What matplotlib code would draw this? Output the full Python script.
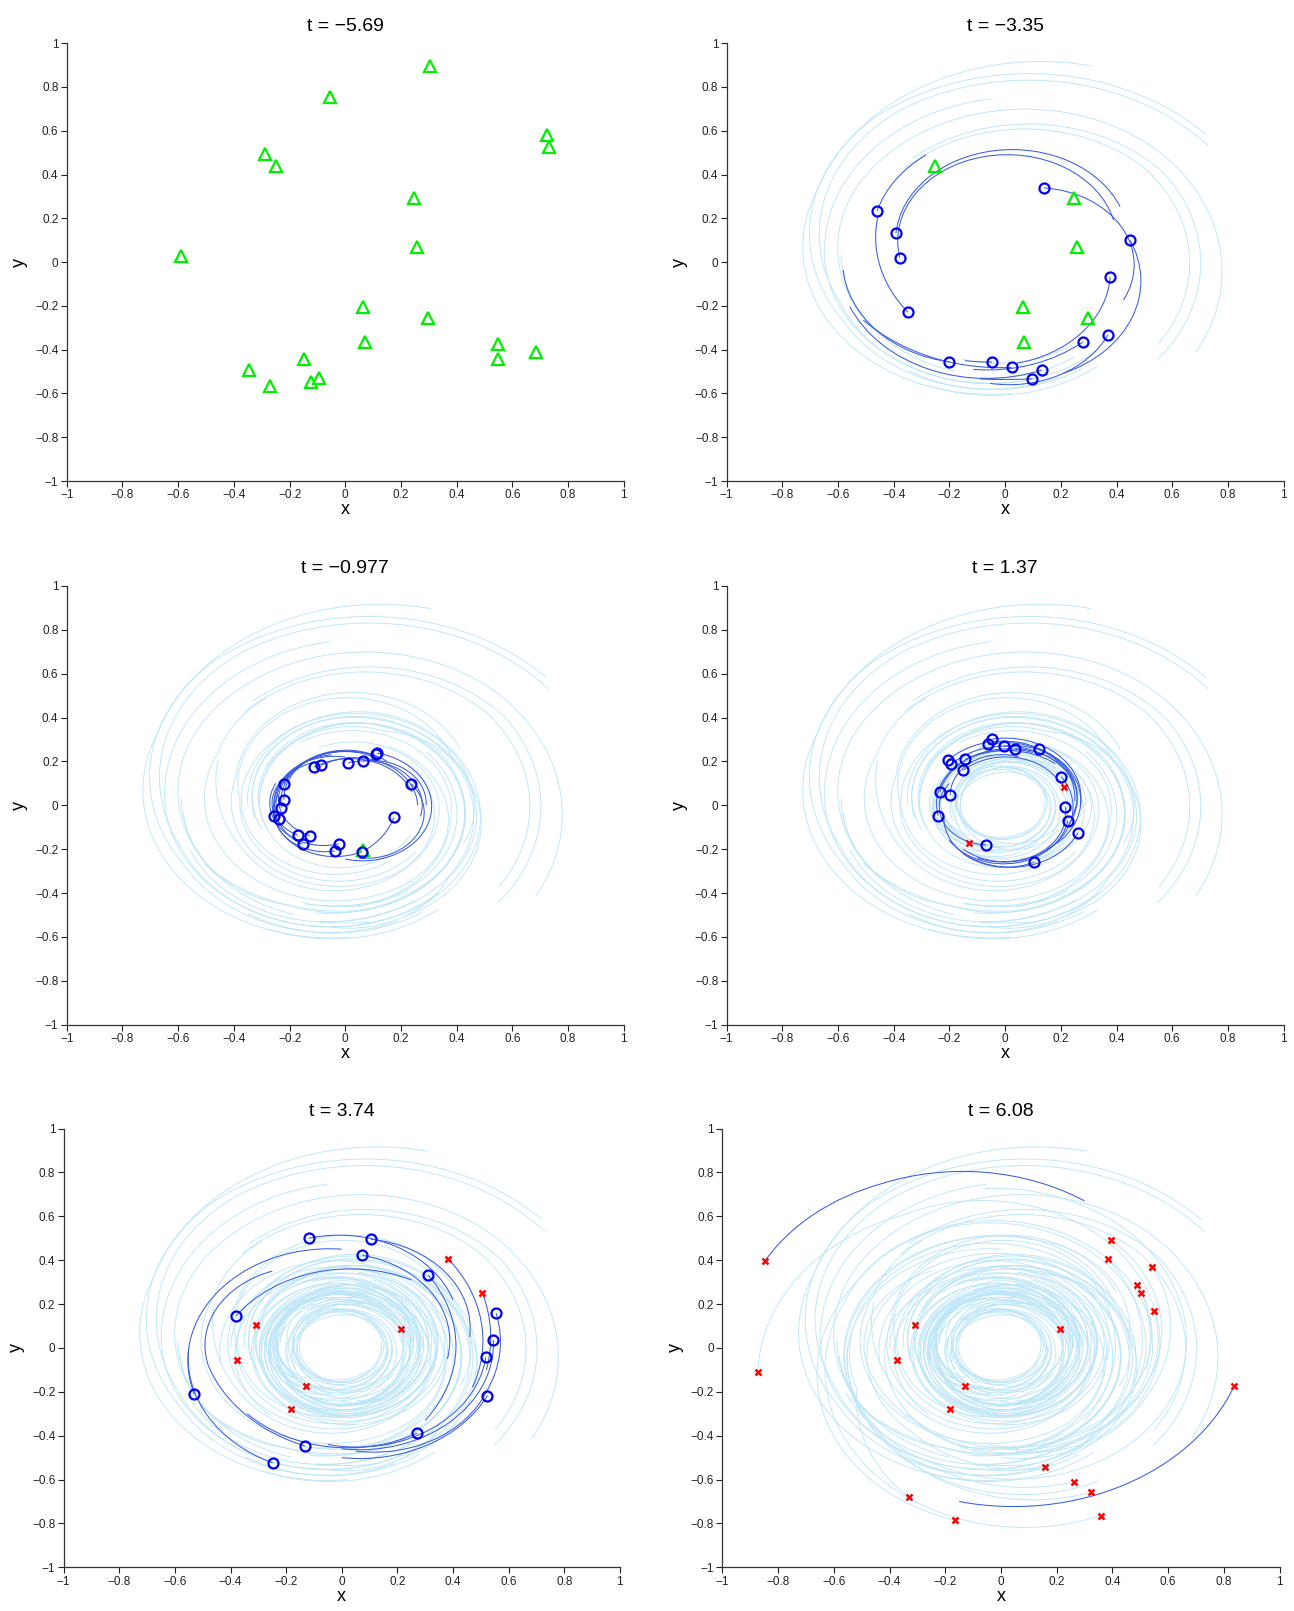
import math

import matplotlib
matplotlib.use("Agg")
import matplotlib.pyplot as plt
from matplotlib.patches import Arc

plt.rcParams["font.family"] = ["Liberation Sans", "DejaVu Sans"]

# ── Snapshot times ───────────────────────────────────────────────────
T_LABELS = ["\u22125.69", "\u22123.35", "\u22120.977", "1.37", "3.74", "6.08"]

# ── Birth positions (green triangles); last panel each one is shown ──
TRI_X = [0.305, -0.054, 0.724, 0.731, -0.289, -0.250, 0.248, 0.258, -0.589, 0.065,
         0.298, 0.069, 0.549, 0.549, 0.686, -0.150, -0.347, -0.270, -0.122, -0.094]
TRI_Y = [0.898, 0.752, 0.579, 0.528, 0.494, 0.437, 0.293, 0.069, 0.028, -0.205,
         -0.255, -0.363, -0.375, -0.443, -0.409, -0.444, -0.495, -0.566, -0.548, -0.529]
TRI_LAST = [1, 1, 1, 1, 1, 2, 2, 2, 1, 3, 2, 2, 1, 1, 1, 1, 1, 1, 1, 1]

# ── Death positions (red crosses); first panel each one is shown ─────
DEAD_X = [0.213, -0.130, -0.310, -0.375, -0.184, 0.383, 0.504,
          -0.847, -0.872, 0.394, 0.544, 0.490, 0.548, 0.838,
          0.159, 0.262, 0.324, -0.330, 0.358, -0.164]
DEAD_Y = [0.084, -0.172, 0.106, -0.053, -0.280, 0.403, 0.250,
          0.397, -0.110, 0.493, 0.367, 0.289, 0.167, -0.172,
          -0.544, -0.610, -0.657, -0.680, -0.764, -0.785]
DEAD_FIRST = [4, 4, 5, 5, 5, 5, 5, 6, 6, 6, 6, 6, 6, 6, 6, 6, 6, 6, 6, 6]

# ── Live particles (blue circles) per panel ─────────────────────────
CIRC_X = {
    2: [0.139, -0.459, -0.392, -0.378, -0.349, 0.448, 0.377, 0.369, 0.279,
        -0.200, -0.046, 0.024, 0.131, 0.098],
    3: [0.114, 0.110, -0.112, -0.087, 0.010, 0.064, 0.237, -0.221, -0.220,
        -0.230, -0.256, -0.237, 0.174, -0.171, -0.128, -0.153, -0.024, -0.038, 0.060],
    4: [-0.046, -0.061, -0.004, 0.036, 0.120, -0.206, -0.194, -0.144, -0.151,
        0.202, -0.234, -0.197, 0.216, -0.240, 0.225, 0.262, -0.069, 0.105],
    5: [-0.119, 0.105, 0.074, 0.311, -0.380, 0.555, 0.545, 0.518, 0.524,
        -0.530, 0.272, -0.132, -0.248],
}
CIRC_Y = {
    2: [0.339, 0.235, 0.132, 0.020, -0.229, 0.101, -0.069, -0.332, -0.365,
        -0.456, -0.456, -0.481, -0.493, -0.533],
    3: [0.238, 0.235, 0.174, 0.182, 0.193, 0.202, 0.098, 0.098, 0.025,
        -0.011, -0.047, -0.064, -0.055, -0.136, -0.138, -0.178, -0.176, -0.208, -0.211],
    4: [0.302, 0.278, 0.270, 0.258, 0.258, 0.205, 0.188, 0.209, 0.159,
        0.130, 0.060, 0.045, -0.006, -0.047, -0.070, -0.125, -0.180, -0.259],
    5: [0.500, 0.495, 0.422, 0.332, 0.146, 0.159, 0.036, -0.043, -0.217,
        -0.210, -0.388, -0.447, -0.524],
}

# ── Recent trails (dark), points along the path, newest last ────────
TRAILS_2 = [
    [(-0.284, 0.489), (-0.383, 0.390), (-0.459, 0.235)],
    [(-0.457, 0.207), (-0.452, -0.006), (-0.349, -0.229)],
    [(0.413, 0.253), (0.089, 0.509), (-0.392, 0.132)],
    [(0.389, 0.192), (0.089, 0.482), (-0.378, 0.020)],
    [(0.425, -0.173), (0.425, 0.147), (0.139, 0.339)],
    [(0.209, -0.508), (0.472, -0.204), (0.448, 0.101)],
    [(0.041, -0.462), (0.317, -0.264), (0.377, -0.069)],
    [(-0.054, -0.554), (0.209, -0.508), (0.369, -0.332)],
    [(-0.114, -0.490), (0.113, -0.462), (0.279, -0.365)],
    [(-0.581, -0.036), (-0.449, -0.325), (-0.200, -0.456)],
    [(-0.144, -0.450), (-0.095, -0.455), (-0.046, -0.456)],
    [(-0.509, -0.265), (-0.270, -0.432), (0.024, -0.481)],
    [(-0.557, -0.204), (-0.329, -0.462), (0.131, -0.493)],
    [(-0.090, -0.534), (0.006, -0.536), (0.098, -0.533)],
]
TRAILS_3 = [
    [(0.000, -0.245), (0.310, 0.000), (0.114, 0.238)],
    [(0.050, -0.240), (0.280, -0.070), (0.237, 0.098)],
    [(0.290, 0.000), (0.220, 0.160), (0.064, 0.202)],
    [(0.270, -0.050), (0.210, 0.150), (0.010, 0.193)],
    [(0.260, 0.000), (0.120, 0.200), (-0.087, 0.182)],
    [(0.240, 0.060), (0.080, 0.205), (-0.112, 0.174)],
    [(0.050, 0.240), (-0.140, 0.200), (-0.221, 0.098)],
    [(0.100, 0.220), (-0.170, 0.170), (-0.220, 0.025)],
    [(0.150, 0.200), (-0.190, 0.150), (-0.230, -0.011)],
    [(0.120, 0.220), (-0.220, 0.120), (-0.256, -0.047)],
    [(-0.050, 0.230), (-0.240, 0.070), (-0.237, -0.064)],
    [(-0.200, 0.140), (-0.260, -0.020), (-0.171, -0.136)],
    [(-0.100, 0.200), (-0.240, 0.030), (-0.128, -0.138)],
    [(0.000, 0.220), (-0.250, 0.060), (-0.153, -0.178)],
    [(-0.250, 0.100), (-0.220, -0.120), (-0.024, -0.176)],
    [(-0.240, 0.050), (-0.200, -0.160), (-0.038, -0.208)],
    [(-0.260, 0.000), (-0.170, -0.190), (0.060, -0.211)],
    [(0.071, -0.204), (0.137, -0.135), (0.174, -0.055)],
]
TRAILS_4 = [
    [(0.270, 0.000), (0.200, 0.220), (-0.046, 0.302)],
    [(0.250, 0.020), (0.170, 0.220), (-0.061, 0.278)],
    [(0.240, -0.050), (0.220, 0.170), (-0.004, 0.270)],
    [(0.220, -0.100), (0.240, 0.120), (0.036, 0.258)],
    [(0.150, -0.200), (0.270, 0.050), (0.120, 0.258)],
    [(0.250, 0.100), (0.030, 0.290), (-0.206, 0.205)],
    [(0.230, 0.140), (0.000, 0.270), (-0.194, 0.188)],
    [(0.180, 0.190), (0.020, 0.250), (-0.144, 0.209)],
    [(0.200, 0.100), (0.020, 0.220), (-0.151, 0.159)],
    [(-0.100, -0.240), (0.200, -0.150), (0.202, 0.130)],
    [(0.100, 0.240), (-0.150, 0.200), (-0.234, 0.060)],
    [(0.050, 0.220), (-0.150, 0.170), (-0.197, 0.045)],
    [(-0.150, -0.200), (0.120, -0.220), (0.216, -0.006)],
    [(0.000, 0.250), (-0.200, 0.150), (-0.240, -0.047)],
    [(-0.200, -0.160), (0.050, -0.260), (0.225, -0.070)],
    [(-0.150, -0.220), (0.100, -0.270), (0.262, -0.125)],
    [(-0.200, 0.100), (-0.220, -0.080), (-0.069, -0.180)],
    [(-0.220, -0.050), (-0.150, -0.220), (0.105, -0.259)],
]
TRAILS_5 = [
    [(0.400, 0.220), (0.180, 0.470), (-0.119, 0.500)],
    [(0.460, 0.050), (0.360, 0.360), (0.105, 0.495)],
    [(0.380, -0.050), (0.310, 0.270), (0.074, 0.422)],
    [(0.300, -0.330), (0.410, -0.020), (0.311, 0.332)],
    [(0.250, 0.310), (-0.070, 0.350), (-0.380, 0.146)],
    [(0.000, 0.450), (-0.450, 0.250), (-0.530, -0.210)],
    [(0.050, -0.470), (0.360, -0.400), (0.520, -0.200), (0.570, 0.000), (0.555, 0.159)],
    [(0.000, -0.460), (0.450, -0.270), (0.545, 0.036)],
    [(-0.050, -0.440), (0.400, -0.300), (0.518, -0.043)],
    [(0.000, -0.500), (0.330, -0.430), (0.524, -0.217)],
    [(-0.340, -0.300), (-0.050, -0.450), (0.272, -0.388)],
    [(-0.250, 0.350), (-0.450, 0.180), (-0.480, -0.080), (-0.340, -0.310), (-0.132, -0.447)],
    [(-0.550, 0.000), (-0.470, -0.330), (-0.248, -0.524)],
    [(0.470, -0.180), (0.500, 0.130), (0.384, 0.404)],
    [(0.520, -0.100), (0.535, 0.080), (0.506, 0.250)],
]
TRAILS_6 = [
    [(0.300, 0.670), (0.030, 0.786), (-0.430, 0.748), (-0.687, 0.596), (-0.847, 0.397)],
    [(-0.150, -0.700), (0.450, -0.620), (0.838, -0.172)],
]

# ── Older path pieces (light), (r_start, deg_start, r_end, deg_end), CCW
LIGHT_2 = [
    (0.948, 71, 0.75, 154), (0.75, 154, 0.60, 272),
    (0.747, 94, 0.655, 171), (0.655, 171, 0.56, 262),
    (0.927, 39, 0.81, 125), (0.81, 125, 0.64, 205), (0.64, 205, 0.56, 290),
    (0.902, 36, 0.79, 118), (0.79, 118, 0.62, 198), (0.62, 198, 0.54, 285),
    (0.799, 329, 0.75, 400), (0.75, 40, 0.64, 140), (0.64, 140, 0.56, 215),
    (0.665, 326, 0.66, 400), (0.66, 40, 0.56, 130),
    (0.705, 321, 0.70, 395), (0.70, 35, 0.58, 125),
    (0.59, 177, 0.53, 250),
    (0.605, 235, 0.56, 300), (0.627, 244, 0.58, 305),
    (0.561, 257, 0.52, 310), (0.537, 260, 0.50, 300), (0.469, 251, 0.45, 300),
]
LIGHT_3 = [
    (0.366, 68, 0.30, 200), (0.30, 200, 0.27, 330),
    (0.516, 153, 0.42, 300), (0.42, 300, 0.31, 420),
    (0.414, 161, 0.36, 300), (0.36, 300, 0.29, 400),
    (0.379, 177, 0.33, 320),
    (0.417, 213, 0.34, 350), (0.34, 350, 0.28, 470),
    (0.459, 13, 0.38, 160), (0.38, 160, 0.30, 300),
    (0.383, 350, 0.33, 480),
    (0.496, 318, 0.40, 450), (0.40, 90, 0.32, 200),
    (0.459, 307, 0.38, 440), (0.38, 80, 0.30, 200),
    (0.498, 246, 0.42, 380), (0.42, 20, 0.33, 150),
    (0.458, 264, 0.38, 400),
    (0.482, 273, 0.40, 410), (0.40, 50, 0.31, 170),
    (0.510, 285, 0.42, 420), (0.42, 60, 0.33, 190),
    (0.542, 280, 0.45, 410), (0.45, 50, 0.35, 180),
]
LIGHT_4 = [
    (0.25, 0, 0.18, 150), (0.18, 150, 0.14, 300), (0.14, 300, 0.17, 450),
    (0.24, 60, 0.17, 200), (0.17, 200, 0.14, 340), (0.14, 340, 0.19, 500),
    (0.26, 120, 0.19, 260), (0.19, 260, 0.15, 400), (0.15, 40, 0.20, 200),
    (0.23, 180, 0.17, 320), (0.17, 320, 0.15, 470), (0.15, 110, 0.21, 260),
    (0.25, 240, 0.19, 380), (0.19, 20, 0.16, 170), (0.16, 170, 0.22, 330),
    (0.27, 300, 0.20, 440), (0.20, 80, 0.16, 230), (0.16, 230, 0.23, 390),
    (0.22, 30, 0.16, 180), (0.16, 180, 0.15, 330),
    (0.24, 200, 0.18, 350), (0.18, 350, 0.17, 500),
    (0.28, 90, 0.21, 230), (0.21, 230, 0.18, 380),
    (0.26, 270, 0.20, 420), (0.20, 60, 0.19, 210),
]
LIGHT_5 = [
    (0.30, 98, 0.33, 250), (0.33, 250, 0.38, 400), (0.38, 40, 0.44, 190),
    (0.28, 102, 0.31, 260), (0.31, 260, 0.36, 410),
    (0.27, 90, 0.30, 240), (0.30, 240, 0.35, 390), (0.35, 30, 0.40, 180),
    (0.26, 82, 0.30, 230), (0.30, 230, 0.34, 380),
    (0.29, 65, 0.33, 210), (0.33, 210, 0.38, 360),
    (0.29, 135, 0.32, 290), (0.32, 290, 0.37, 440),
    (0.27, 136, 0.30, 290), (0.30, 290, 0.35, 440),
    (0.25, 124, 0.29, 280), (0.29, 280, 0.33, 430),
    (0.22, 133, 0.26, 290), (0.26, 290, 0.30, 440),
    (0.24, 33, 0.28, 190), (0.28, 190, 0.33, 340),
    (0.24, 165, 0.27, 320), (0.27, 320, 0.32, 470),
    (0.20, 167, 0.24, 320), (0.24, 320, 0.28, 470),
    (0.22, 0, 0.26, 160), (0.26, 160, 0.31, 310),
    (0.24, 191, 0.28, 340), (0.28, 340, 0.33, 490),
    (0.23, 343, 0.27, 500), (0.29, 335, 0.33, 480),
    (0.19, 249, 0.23, 400), (0.23, 40, 0.28, 200),
    (0.29, 296, 0.34, 440), (0.34, 80, 0.40, 230),
    (0.18, 180, 0.16, 330), (0.16, 330, 0.18, 480),
    (0.17, 60, 0.15, 210), (0.15, 210, 0.17, 360),
]
LIGHT_6 = [
    (0.514, 103, 0.60, 250), (0.60, 250, 0.664, 293),
    (0.506, 78, 0.58, 220), (0.58, 220, 0.733, 296),
    (0.428, 80, 0.50, 230), (0.50, 230, 0.567, 286),
    (0.455, 47, 0.55, 200), (0.55, 200, 0.756, 244),
    (0.407, 159, 0.50, 300), (0.50, 300, 0.631, 411),
    (0.577, 16, 0.70, 120), (0.70, 120, 0.879, 187),
    (0.546, 4, 0.60, 150), (0.60, 150, 0.802, 258),
    (0.52, 355, 0.60, 520), (0.60, 160, 0.844, 295),
    (0.567, 337, 0.656, 394),
    (0.570, 201, 0.70, 300),
    (0.474, 305, 0.569, 390),
    (0.466, 253, 0.573, 377),
    (0.580, 245, 0.66, 350), (0.66, 350, 0.73, 455),
]

TRAILS = {2: TRAILS_2, 3: TRAILS_3, 4: TRAILS_4, 5: TRAILS_5, 6: TRAILS_6}
LIGHT = {2: LIGHT_2, 3: LIGHT_3, 4: LIGHT_4, 5: LIGHT_5, 6: LIGHT_6}

TICKS = [-1, -0.8, -0.6, -0.4, -0.2, 0, 0.2, 0.4, 0.6, 0.8, 1]
TICK_LABELS = ["\u22121", "\u22120.8", "\u22120.6", "\u22120.4", "\u22120.2", "0",
               "0.2", "0.4", "0.6", "0.8", "1"]

# axes boxes in figure fractions: left, bottom, width, height
AX_POS = [
    (0.0516, 0.7014, 0.4305, 0.2718), (0.5615, 0.7014, 0.4305, 0.2718),
    (0.0516, 0.3639, 0.4305, 0.2724), (0.5615, 0.3639, 0.4305, 0.2724),
    (0.0492, 0.0271, 0.4298, 0.2724), (0.5583, 0.0271, 0.4305, 0.2724),
]

LIGHT_C = "#bde6f8"
DARK_C = "#3a5ce2"


def arc3(ax, p0, p1, p2, **kw):
    """Circular arc through three points, drawn with an Arc patch."""
    (x0, y0), (x1, y1), (x2, y2) = p0, p1, p2
    d = 2 * (x0 * (y1 - y2) + x1 * (y2 - y0) + x2 * (y0 - y1))
    if abs(d) < 1e-9:
        ax.plot([x0, x2], [y0, y2], solid_capstyle="butt", **kw)
        return
    s0, s1, s2 = x0**2 + y0**2, x1**2 + y1**2, x2**2 + y2**2
    ux = (s0 * (y1 - y2) + s1 * (y2 - y0) + s2 * (y0 - y1)) / d
    uy = (s0 * (x2 - x1) + s1 * (x0 - x2) + s2 * (x1 - x0)) / d
    r = math.hypot(x0 - ux, y0 - uy)
    a0 = math.degrees(math.atan2(y0 - uy, x0 - ux))
    a2 = math.degrees(math.atan2(y2 - uy, x2 - ux))
    turn = (x1 - x0) * (y2 - y1) - (y1 - y0) * (x2 - x1)
    t1, t2 = (a0, a2) if turn > 0 else (a2, a0)
    ax.add_patch(Arc((ux, uy), 2 * r, 2 * r, theta1=t1, theta2=t2,
                     fill=False, **kw))


def draw_path(ax, pts, **kw):
    for i in range(0, len(pts) - 2, 2):
        arc3(ax, pts[i], pts[i + 1], pts[i + 2], **kw)


def polar(r, a):
    return (r * math.cos(math.radians(a)), r * math.sin(math.radians(a)))


def draw_piece(ax, piece, **kw):
    r1, a1, r2, a2 = piece
    arc3(ax, polar(r1, a1), polar((r1 + r2) / 2, (a1 + a2) / 2), polar(r2, a2), **kw)


def style_axes(ax, title):
    ax.set_xlim(-1, 1)
    ax.set_ylim(-1, 1)
    for side in ("top", "right"):
        ax.spines[side].set_visible(False)
    for side in ("left", "bottom"):
        ax.spines[side].set_color("#333333")
        ax.spines[side].set_linewidth(0.9)
    ax.set_xticks(TICKS)
    ax.set_yticks(TICKS)
    ax.set_xticklabels(TICK_LABELS)
    ax.set_yticklabels(TICK_LABELS)
    ax.tick_params(direction="out", length=4, width=0.8, pad=2,
                   labelsize=8.5, colors="#222222")
    ax.set_xlabel("x", fontsize=13, labelpad=0)
    ax.set_ylabel("y", fontsize=13, labelpad=5)
    ax.set_title(f"t = {title}", fontsize=14, pad=9)


fig = plt.figure(figsize=(12.94, 16.11), dpi=100)

for p in range(1, 7):
    ax = fig.add_axes(AX_POS[p - 1])
    style_axes(ax, T_LABELS[p - 1])

    # light history: pieces and earlier dark trails
    for q in range(2, p + 1):
        for piece in LIGHT[q]:
            draw_piece(ax, piece, color=LIGHT_C, lw=0.65, zorder=1)
        if q < p:
            for tr in TRAILS[q]:
                draw_path(ax, tr, color=LIGHT_C, lw=0.65, zorder=1)
    if p in TRAILS:
        for tr in TRAILS[p]:
            draw_path(ax, tr, color=DARK_C, lw=0.75, zorder=2)

    tx = [x for x, last in zip(TRI_X, TRI_LAST) if last >= p]
    ty = [y for y, last in zip(TRI_Y, TRI_LAST) if last >= p]
    if tx:
        ax.plot(tx, ty, "^", ms=8, mfc="none", mec="#00ee00", mew=1.6, zorder=3)
    if p in CIRC_X:
        ax.plot(CIRC_X[p], CIRC_Y[p], "o", ms=7.2, mfc="none", mec="#0000ee",
                mew=1.6, zorder=4)
    dx = [x for x, f in zip(DEAD_X, DEAD_FIRST) if f <= p]
    dy = [y for y, f in zip(DEAD_Y, DEAD_FIRST) if f <= p]
    if dx:
        ax.plot(dx, dy, "x", ms=5, mec="#ff0000", mew=1.8, zorder=5)

fig.savefig("out.png", dpi=100)
